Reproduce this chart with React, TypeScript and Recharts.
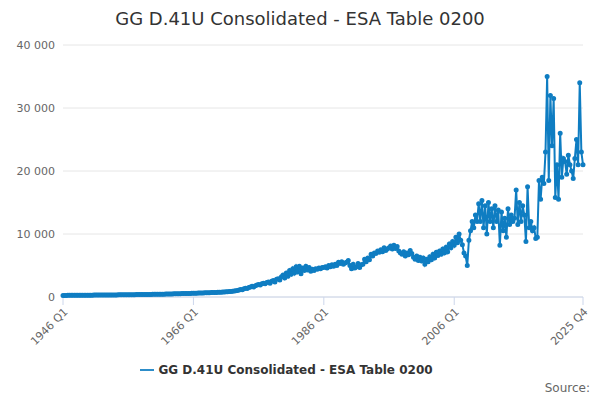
import { LineChart, Line, XAxis, YAxis, CartesianGrid, Legend } from 'recharts';

const startYear = 1946;
const endYear = 2025;

// quarterly values, one decade per row
const values: number[] = [
  250, 252, 255, 258, 260, 262, 265, 268, 270, 272, 275, 278, 280, 282, 285, 288, 290, 292, 295, 298, 300, 302, 305, 308, 310, 312, 315, 318, 320, 322, 325, 328, 330, 335, 338, 340, 345, 348, 350, 355,
  360, 362, 365, 370, 375, 378, 380, 385, 390, 395, 398, 400, 405, 410, 415, 420, 425, 430, 435, 440, 445, 450, 455, 460, 470, 475, 480, 490, 500, 505, 510, 520, 530, 540, 545, 550, 560, 570, 575, 580,
  590, 600, 610, 620, 630, 640, 650, 660, 670, 680, 690, 700, 710, 720, 730, 740, 750, 760, 780, 800, 820, 840, 860, 880, 900, 950, 1000, 1050, 1100, 1200, 1150, 1300, 1400, 1350, 1500, 1600, 1700, 1600, 1800, 1900,
  2000, 1900, 2100, 2200, 2100, 2300, 2400, 2200, 2500, 2600, 2400, 2800, 2900, 2700, 3200, 3500, 3000, 3800, 3300, 4200, 3600, 4500, 3800, 4800, 4000, 4900, 3700, 4600, 4200, 4900, 4300, 4700, 4100, 4400, 4200, 4500, 4400, 4600, 4500, 4700,
  4700, 4800, 4600, 5000, 4800, 5100, 4900, 5200, 5000, 5500, 5300, 5600, 5200, 5400, 5500, 5800, 5000, 4500, 5200, 4600, 4800, 5300, 4700, 5100, 5200, 6000, 5600, 6200, 5900, 6800, 6500, 7000, 6900, 7300, 7100, 7500, 7200, 7800, 7400, 7600,
  7800, 8100, 7600, 8200, 7700, 8000, 7300, 7000, 6800, 7200, 6500, 7000, 6700, 7400, 6900, 6300, 6000, 6500, 5800, 6300, 5700, 6200, 5200, 6000, 5600, 6400, 5900, 6800, 6200, 7100, 6600, 7300, 6800, 7600, 7000, 7900, 7200, 8400, 7800, 8800,
  8200, 9500, 8600, 10000, 9000, 8300, 7000, 6500, 5000, 9000, 10500, 12000, 11000, 13000, 12000, 14800, 12000, 15300, 11000, 14500, 10000, 15000, 12000, 14000, 11000, 14500, 12000, 13800, 8200, 13500, 10500, 12500, 9500, 14000, 11500, 13000, 12000, 12500, 17000, 11500,
  15000, 12000, 14500, 13000, 8800, 17500, 11000, 12000, 10500, 11000, 9300, 9500, 18500, 15500, 19000, 18000, 23000, 35000, 18500, 32000, 24000, 31500, 15800, 21000, 15500, 26000, 19000, 22000, 21500, 19500, 22500, 21000, 20000, 18800, 22000, 25000, 21000, 34000, 23000, 21000,
];

const quarters: string[] = [];
for (let y = startYear; y <= endYear; y++) for (let q = 1; q <= 4; q++) quarters.push(`${y} Q${q}`);

const tickLabels = ['1946 Q1', '1966 Q1', '1986 Q1', '2006 Q1', '2025 Q4'];
const yTicks = [0, 10000, 20000, 30000, 40000];
const seriesName = 'GG D.41U Consolidated - ESA Table 0200';
const color = '#0f7dc2';

const data = quarters.map((q, i) => ({ q, v: values[i] }));

const fmt = (v: number) => v.toLocaleString('en-US').replace(/,/g, ' ');

export default function App() {
  return (
    <div style={{ width: 600, height: 400, position: 'relative', fontFamily: 'DejaVu Sans', marginLeft: -8, marginTop: -8 }}>
      <div style={{ position: 'absolute', top: 8, width: 600, textAlign: 'center', fontSize: 18, color: '#333' }}>
        {seriesName}
      </div>
      <LineChart width={600} height={400} data={data} margin={{ top: 45, right: 17, left: 0, bottom: 11 }}>
        <CartesianGrid vertical={false} stroke="#e6e6e6" />
        <XAxis dataKey="q" ticks={tickLabels} interval={0} angle={-45} textAnchor="end" height={62}
          tick={{ fontSize: 11, fill: '#666' }} stroke="#ccd6eb" tickSize={8} />
        <YAxis ticks={yTicks} domain={[0, 40000]} tickFormatter={fmt} width={63} axisLine={false} tickLine={false}
          tick={{ fontSize: 11, fill: '#666' }} />
        <Legend verticalAlign="bottom" height={30} iconType="plainline"
          formatter={(v) => <span style={{ color: '#333', fontWeight: 'bold', fontSize: 12 }}>{v}</span>} />
        <Line dataKey="v" name={seriesName} stroke={color} strokeWidth={2} dot={{ r: 1.5, fill: color, stroke: color }}
          isAnimationActive={false} />
      </LineChart>
      <div style={{ position: 'absolute', right: 10, top: 381, fontSize: 12, color: '#666' }}>Source:</div>
    </div>
  );
}
